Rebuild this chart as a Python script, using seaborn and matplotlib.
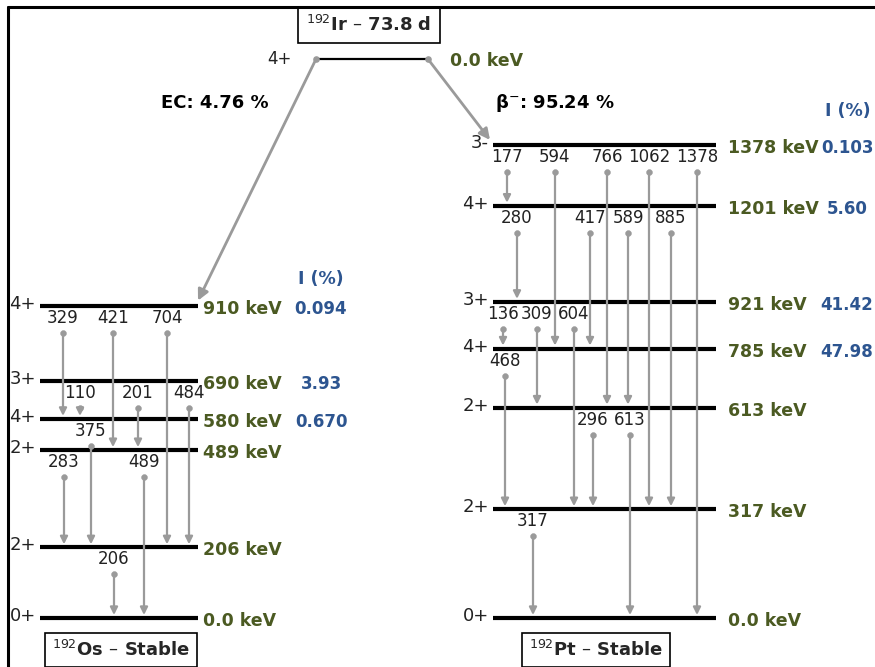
import matplotlib
matplotlib.use('Agg')
import matplotlib.pyplot as plt
from matplotlib.lines import Line2D
import pandas as pd
import seaborn as sns

# 192Os levels (fed by EC)
os_energy = [0.0, 206, 489, 580, 690, 910]
os_spin = ['0+', '2+', '2+', '4+', '3+', '4+']
os_elabel = ['0.0 keV', '206 keV', '489 keV', '580 keV', '690 keV', '910 keV']
os_intensity = ['', '', '', '0.670', '3.93', '0.094']

# 192Pt levels (fed by beta-)
pt_energy = [0.0, 317, 613, 785, 921, 1201, 1378]
pt_spin = ['0+', '2+', '2+', '4+', '3+', '4+', '3-']
pt_elabel = ['0.0 keV', '317 keV', '613 keV', '785 keV', '921 keV', '1201 keV', '1378 keV']
pt_intensity = ['', '', '', '47.98', '41.42', '5.60', '0.103']

# gamma transitions
os_gamma = ['329', '421', '704', '110', '201', '484', '375', '283', '489', '206']
os_from = [910, 910, 910, 690, 690, 690, 580, 489, 489, 206]
os_to = [580, 489, 206, 580, 489, 206, 206, 206, 0, 0]

pt_gamma = ['177', '594', '766', '1062', '1378', '280', '417', '589', '885',
            '136', '309', '604', '468', '296', '613', '317']
pt_from = [1378, 1378, 1378, 1378, 1378, 1201, 1201, 1201, 1201,
           921, 921, 921, 785, 613, 613, 317]
pt_to = [1201, 785, 613, 317, 0, 921, 785, 613, 317,
         785, 613, 317, 317, 317, 0, 0]

parent_label = '$^{192}$Ir \u2013 73.8 d'
parent_spin = '4+'
ec_text = 'EC: 4.76 %'
beta_text = '\u03b2$^{-}$: 95.24 %'

# ---- layout (pixels horizontally, keV vertically) ----
os_x = (40, 198)
pt_x = (493, 716)
ir_x = (316, 428)
ir_y = 1628
os_gamma_x = [63, 113, 167, 80, 138, 189, 91, 64, 144, 114]
pt_gamma_x = [507, 555, 607, 649, 697, 517, 590, 628, 671, 503, 537, 574, 505, 593, 630, 533]
px = 0.3433  # pixels per keV
lab_off = 12 / px
dot_off = 27 / px
tip_off = 3 / px

GRAY = '#9a9a9a'
OLIVE = '#4b5a22'
BLUE = '#2d5590'
TXT = '#222222'

sns.set_theme(style='white')
plt.rcParams['font.family'] = ['DejaVu Sans']

fig = plt.figure(figsize=(8.75, 6.67), dpi=100)
ax = fig.add_axes([0, 0, 1, 1])
ax.set_xlim(0, 875)
ax.set_ylim(-(667 - 618) / px, 618 / px)
ax.axis('off')

# frame remnants
fig.add_artist(Line2D([8 / 875, 8 / 875], [0, 1 - 7 / 667], color='black', lw=2.2))
fig.add_artist(Line2D([8 / 875, 1], [1 - 7 / 667, 1 - 7 / 667], color='black', lw=2.2))


def draw_scheme(xr, energy, spin, elabel, inten, gam, g_from, g_to, gx, elab_x, int_x):
    levels = pd.DataFrame({'E': energy, 'spin': spin, 'lab': elabel, 'I': inten})
    ax.hlines(levels['E'], xr[0], xr[1], color='black', lw=3, zorder=2)
    for _, r in levels.iterrows():
        ax.text(xr[0] - 4, r['E'] + 2 / px, r['spin'], ha='right', va='center', fontsize=13, color=TXT)
        ax.text(elab_x, r['E'] - 3 / px, r['lab'], ha='left', va='center', fontsize=12.5,
                fontweight='bold', color=OLIVE)
        if r['I']:
            ax.text(int_x, r['E'] - 3 / px, r['I'], ha='center', va='center', fontsize=12,
                    fontweight='bold', color=BLUE)
    tr = pd.DataFrame({'g': gam, 'f': g_from, 't': g_to, 'x': gx})
    tr['ystart'] = tr['f'] - dot_off
    sns.scatterplot(data=tr, x='x', y='ystart', ax=ax, color=GRAY, s=18, edgecolor=GRAY,
                    zorder=4, legend=False)
    for _, r in tr.iterrows():
        ax.text(r['x'], r['f'] - lab_off, r['g'], ha='center', va='center', fontsize=12,
                color=TXT, zorder=5)
        ax.annotate('', xy=(r['x'], r['t'] + tip_off), xytext=(r['x'], r['ystart']),
                    arrowprops=dict(arrowstyle='-|>', color=GRAY, lw=1.6, mutation_scale=11,
                                    shrinkA=0, shrinkB=0), zorder=3)


draw_scheme(os_x, os_energy, os_spin, os_elabel, os_intensity, os_gamma, os_from, os_to,
            os_gamma_x, 203, 321)
draw_scheme(pt_x, pt_energy, pt_spin, pt_elabel, pt_intensity, pt_gamma, pt_from, pt_to,
            pt_gamma_x, 728, 847)

ax.text(321, (618 - 279) / px, 'I (%)', ha='center', va='center', fontsize=12.5,
        fontweight='bold', color=BLUE)
ax.text(848, (618 - 111) / px, 'I (%)', ha='center', va='center', fontsize=12.5,
        fontweight='bold', color=BLUE)

# parent level
ax.hlines(ir_y, ir_x[0], ir_x[1], color='black', lw=1.6, zorder=2)
ax.scatter(list(ir_x), [ir_y, ir_y], color=GRAY, s=14, zorder=4)
ax.text(ir_x[0] - 24, ir_y, parent_spin, ha='right', va='center', fontsize=12, color=TXT)
ax.text(450, ir_y - 2 / px, '0.0 keV', ha='left', va='center', fontsize=12.5,
        fontweight='bold', color=OLIVE)
ax.text(369, (618 - 25) / px, parent_label, ha='center', va='center', fontsize=13,
        fontweight='bold', bbox=dict(boxstyle='square,pad=0.45', fc='white', ec='black', lw=1.2))

# decay branches
ax.annotate('', xy=(os_x[1], os_energy[-1] + 5 / px), xytext=(ir_x[0], ir_y),
            arrowprops=dict(arrowstyle='-|>', color=GRAY, lw=2, mutation_scale=16,
                            shrinkA=0, shrinkB=0), zorder=3)
ax.annotate('', xy=(pt_x[0] - 3, pt_energy[-1] + 5 / px), xytext=(ir_x[1], ir_y),
            arrowprops=dict(arrowstyle='-|>', color=GRAY, lw=2, mutation_scale=16,
                            shrinkA=0, shrinkB=0), zorder=3)
ax.text(215, (618 - 103) / px, ec_text, ha='center', va='center', fontsize=13,
        fontweight='bold', color='black')
ax.text(495, (618 - 103) / px, beta_text, ha='left', va='center', fontsize=13,
        fontweight='bold', color='black')

# daughter labels
ax.text(121, (618 - 650) / px, '$^{192}$Os \u2013 Stable', ha='center', va='center', fontsize=13,
        fontweight='bold', bbox=dict(boxstyle='square,pad=0.4', fc='white', ec='black', lw=1.2))
ax.text(596, (618 - 650) / px, '$^{192}$Pt \u2013 Stable', ha='center', va='center', fontsize=13,
        fontweight='bold', bbox=dict(boxstyle='square,pad=0.4', fc='white', ec='black', lw=1.2))

fig.savefig('out.png', dpi=100)
